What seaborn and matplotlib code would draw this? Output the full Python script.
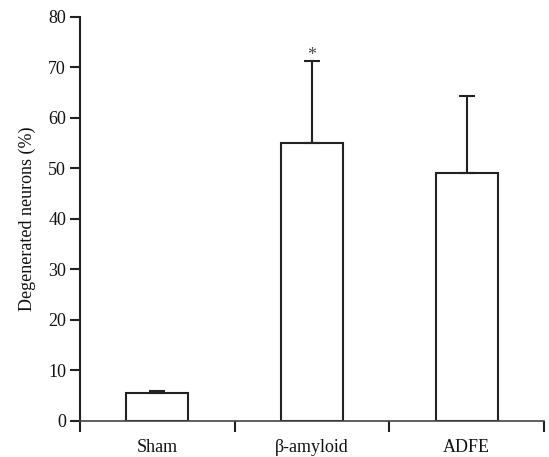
import matplotlib
matplotlib.use("Agg")
import matplotlib.pyplot as plt
from matplotlib.ticker import FixedLocator, NullFormatter
import seaborn as sns
import pandas as pd

categories = ["Sham", "β-amyloid", "ADFE"]
means = [5.5, 55.0, 49.0]
errors = [0.4, 16.3, 15.4]
significance = ["", "*", ""]
yticks = [0, 10, 20, 30, 40, 50, 60, 70, 80]

sns.set_style("ticks")
plt.rcParams["font.family"] = ["Liberation Serif", "DejaVu Serif"]

df = pd.DataFrame({"group": categories, "value": means})

fig = plt.figure(figsize=(5.49, 4.57), dpi=100)
ax = fig.add_axes([0.1457, 0.079, 0.991 - 0.1457, 0.963 - 0.079])

ink = "#222222"
fs = 13
sns.barplot(data=df, x="group", y="value", order=categories, color="white",
            edgecolor=ink, linewidth=1.5, width=0.4, errorbar=None, ax=ax,
            saturation=1)

xs = list(range(len(categories)))
ax.errorbar(xs, means, yerr=[[0] * len(errors), errors], fmt="none",
            ecolor=ink, elinewidth=1.5, capsize=5.5, capthick=1.5, zorder=3)

for x, m, e, s in zip(xs, means, errors, significance):
    if s:
        ax.text(x, m + e + 0.2, s, ha="center", va="baseline", fontsize=fs,
                color="#444444")

ax.set_xlim(-0.5, 2.5)
ax.set_ylim(0, 80)
ax.set_yticks(yticks)
ax.set_yticklabels([str(t) for t in yticks], fontsize=fs, color="#111111")

# category boundaries as major ticks, labels on minor ticks
ax.xaxis.set_major_locator(FixedLocator([-0.5, 0.5, 1.5, 2.5]))
ax.xaxis.set_major_formatter(NullFormatter())
ax.xaxis.set_minor_locator(FixedLocator(xs))
ax.set_xticks(xs, minor=True)
ax.set_xticklabels(categories, minor=True, fontsize=fs, color="#111111")
ax.tick_params(axis="x", which="major", length=8, width=1.5, color=ink,
               direction="out")
ax.tick_params(axis="x", which="minor", length=0, pad=13)
ax.tick_params(axis="y", length=7, width=1.5, color=ink, direction="out", pad=3)

ax.set_xlabel("")
ax.set_ylabel("Degenerated neurons (%)", fontsize=fs, color="#111111",
              labelpad=9)

sns.despine(ax=ax)
for side in ["left", "bottom"]:
    ax.spines[side].set_linewidth(1.5)
    ax.spines[side].set_color(ink)
ax.spines["bottom"].set_linewidth(1.2)
ax.spines["bottom"].set_color("#444444")

fig.savefig("out.png", dpi=100)
